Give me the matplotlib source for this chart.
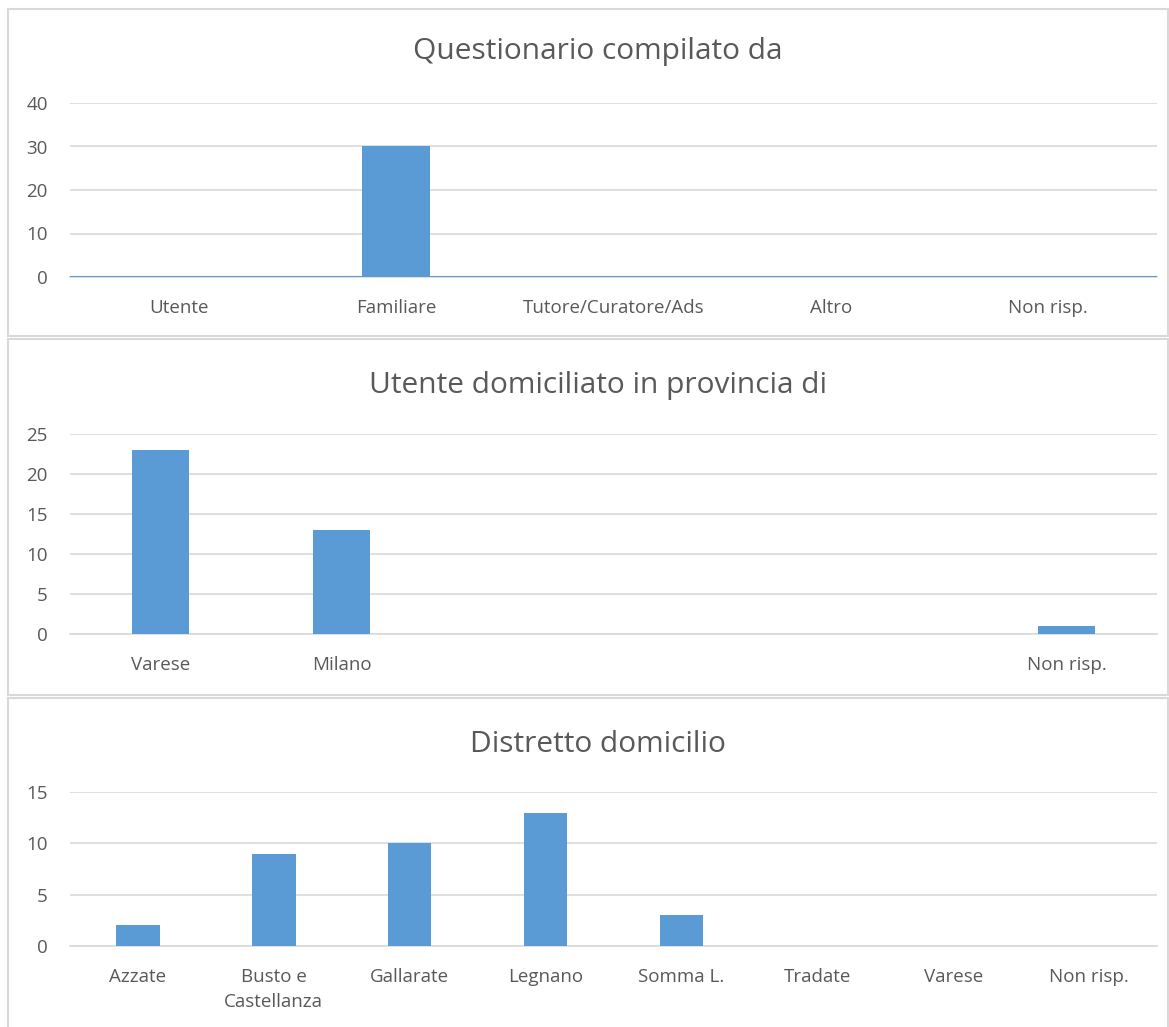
import matplotlib.pyplot as plt
from matplotlib.patches import Rectangle

# data
cat1 = ['Utente', 'Familiare', 'Tutore/Curatore/Ads', 'Altro', 'Non risp.']
val1 = [0, 30, 0, 0, 0]

cat2 = ['Varese', 'Milano', '', '', '', 'Non risp.']
val2 = [23, 13, 0, 0, 0, 1]

cat3 = ['Azzate', 'Busto e\nCastellanza', 'Gallarate', 'Legnano', 'Somma L.',
        'Tradate', 'Varese', 'Non risp.']
val3 = [2, 9, 10, 13, 3, 0, 0, 0]

titles = ['Questionario compilato da', 'Utente domiciliato in provincia di',
          'Distretto domicilio']

plt.rcParams['font.family'] = ['Open Sans', 'DejaVu Sans']

W, H = 1169, 1027
fig = plt.figure(figsize=(W / 100, H / 100), dpi=100)

bar_col = '#5b9bd5'
grid_col = '#d9d9d9'
txt_col = '#595959'


def px_axes(x0, y0, x1, y1):
    # pixel box (top-left origin) -> figure axes
    return fig.add_axes([x0 / W, 1 - y1 / H, (x1 - x0) / W, (y1 - y0) / H])


def panel(y0, y1):
    fig.patches.append(Rectangle((8 / W, 1 - y1 / H), (1160 / W), (y1 - y0) / H,
                                 transform=fig.transFigure, fill=False,
                                 edgecolor=grid_col, lw=1.5))


def draw(ax, cats, vals, ymax, step, width):
    x = range(len(cats))
    ax.bar(x, vals, width=width, color=bar_col, zorder=3)
    ax.set_xlim(-0.5, len(cats) - 0.5)
    ax.set_ylim(0, ymax)
    ax.set_yticks(range(0, ymax + 1, step))
    ax.set_xticks(list(x))
    ax.set_xticklabels(cats, linespacing=1.55)
    ax.grid(axis='y', color=grid_col, lw=1.2, zorder=0)
    for s in ['top', 'right', 'left']:
        ax.spines[s].set_visible(False)
    ax.spines['bottom'].set_color(grid_col)
    ax.spines['bottom'].set_linewidth(1.2)
    ax.tick_params(length=0, labelsize=13.5, colors=txt_col)
    ax.tick_params(axis='y', pad=16)
    ax.tick_params(axis='x', pad=15.5)


panel(9, 336)
panel(339, 695)
panel(698, 1040)

ax1 = px_axes(70, 103, 1157, 277)
draw(ax1, cat1, val1, 40, 10, 0.31)
ax1.axhline(0, color=bar_col, lw=1.5, zorder=4)
fig.text(598 / W, 1 - 52 / H, titles[0], ha='center', va='center',
         fontsize=21.5, color=txt_col)

ax2 = px_axes(70, 434, 1157, 634)
draw(ax2, cat2, val2, 25, 5, 0.315)
fig.text(598 / W, 1 - 385 / H, titles[1], ha='center', va='center',
         fontsize=21.5, color=txt_col)

ax3 = px_axes(70, 792, 1157, 946)
draw(ax3, cat3, val3, 15, 5, 0.32)
fig.text(598 / W, 1 - 745 / H, titles[2], ha='center', va='center',
         fontsize=21.5, color=txt_col)

fig.savefig('out.png', dpi=100, facecolor='white')
